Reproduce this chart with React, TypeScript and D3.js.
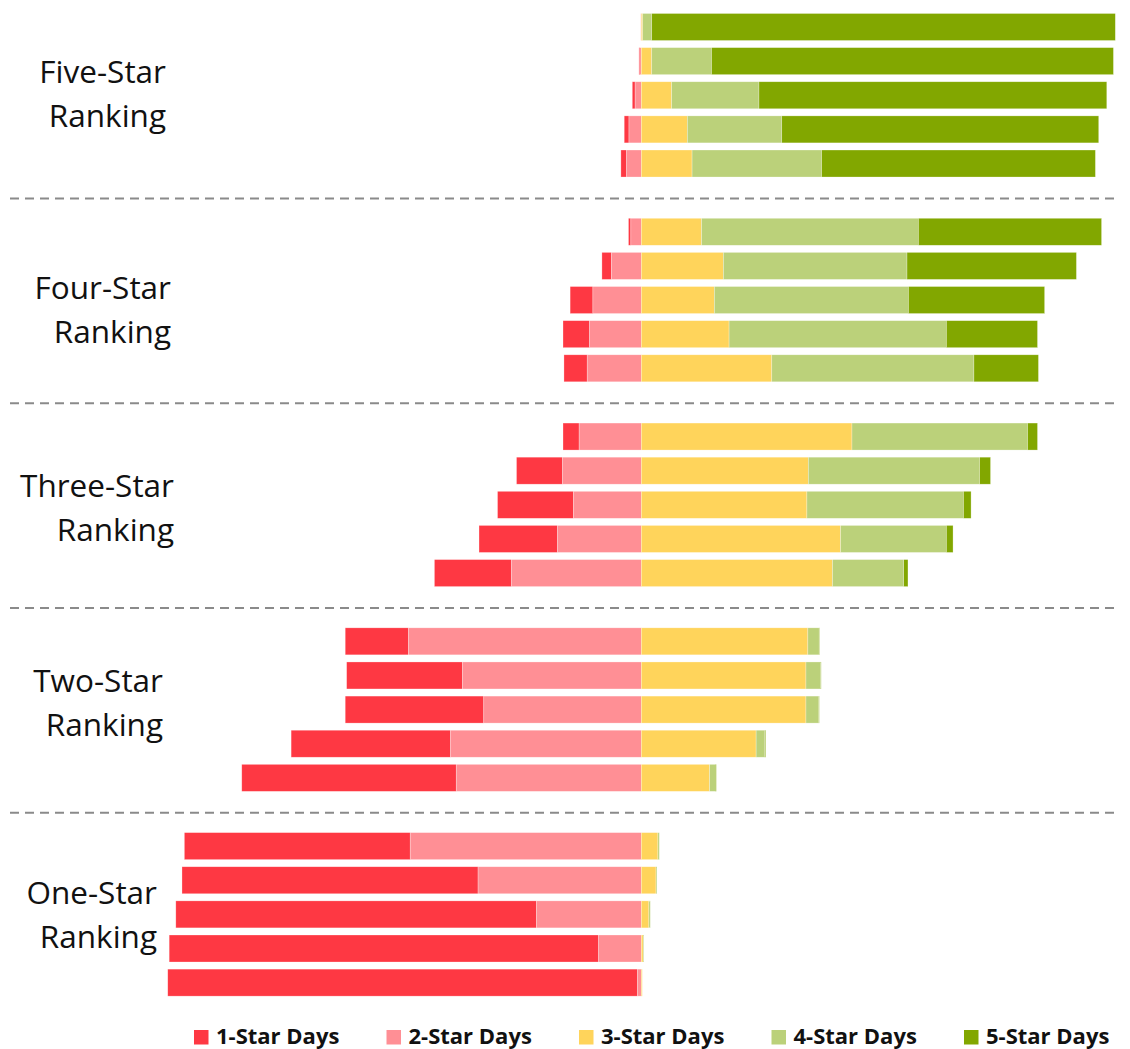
import React from "react";
import * as d3 from "d3";

// Group labels (top to bottom)
const groupLabels = [
  ["Five-Star", "Ranking"],
  ["Four-Star", "Ranking"],
  ["Three-Star", "Ranking"],
  ["Two-Star", "Ranking"],
  ["One-Star", "Ranking"],
];

const seriesNames = ["1-Star Days", "2-Star Days", "3-Star Days", "4-Star Days", "5-Star Days"];
const seriesColors = ["#FE3843", "#FF8F95", "#FFD45B", "#BBD17A", "#82A700"];

// Share of days (%) per bar, 25 bars top to bottom (5 per ranking group)
const oneStar = [
  0, 0.2, 0.6, 1.0, 1.2,
  0.5, 2.0, 4.8, 5.6, 4.9,
  3.4, 9.7, 16.0, 16.5, 16.2,
  13.3, 24.4, 29.2, 33.6, 45.2,
  47.6, 62.4, 76.0, 90.5, 99.0,
];
const twoStar = [
  0.1, 0.3, 1.3, 2.6, 3.1,
  2.2, 6.3, 10.2, 10.9, 11.4,
  13.1, 16.6, 14.3, 17.7, 27.4,
  49.1, 37.7, 33.2, 40.2, 39.0,
  48.7, 34.4, 22.1, 9.0, 0.8,
];
const threeStar = [
  0.3, 2.2, 6.4, 9.7, 10.7,
  12.7, 17.3, 15.4, 18.5, 27.5,
  44.4, 35.2, 34.9, 42.0, 40.3,
  35.1, 34.7, 34.7, 24.2, 14.4,
  3.5, 3.1, 1.6, 0.4, 0.2,
];
const fourStar = [
  1.9, 12.6, 18.4, 19.9, 27.3,
  45.7, 38.7, 40.9, 45.8, 42.6,
  37.0, 36.1, 33.0, 22.3, 15.0,
  2.4, 3.1, 2.7, 1.8, 1.2,
  0.3, 0.2, 0.3, 0.15, 0,
];
const fiveStar = [
  97.7, 84.7, 73.3, 66.8, 57.7,
  38.6, 35.7, 28.7, 19.2, 13.6,
  2.1, 2.3, 1.6, 1.4, 0.9,
  0.1, 0.1, 0.1, 0.2, 0.2,
  0, 0, 0, 0, 0,
];

const W = 1130;
const H = 1049;
const BARS_PER_GROUP = 5;
const SLOTS_PER_GROUP = 6;
const labelRight = [166, 171, 174, 163, 157];
const labelBaseline = [83, 299, 497, 692, 904];
const LINE_GAP = 44;

export default function App() {
  const nGroups = groupLabels.length;
  const nSlots = nGroups * SLOTS_PER_GROUP;
  const step = 34.13;
  const y = d3
    .scaleBand<number>()
    .domain(d3.range(nSlots))
    .range([9.93, 9.93 + nSlots * step])
    .paddingInner(0.209)
    .paddingOuter(0.1045);
  const x = d3.scaleLinear().domain([-100, 100]).range([641.3 - 474.5, 641.3 + 474.5]);

  const rows = oneStar.map((_, i) => {
    const g = Math.floor(i / BARS_PER_GROUP);
    const slot = g * SLOTS_PER_GROUP + (i % BARS_PER_GROUP);
    const v = [oneStar[i], twoStar[i], threeStar[i], fourStar[i], fiveStar[i]];
    const segs = [
      [-(v[0] + v[1]), -v[1]],
      [-v[1], 0],
      [0, v[2]],
      [v[2], v[2] + v[3]],
      [v[2] + v[3], v[2] + v[3] + v[4]],
    ];
    return { slot, segs };
  });

  const dividers = d3.range(1, nGroups).map((g) => {
    const last = y(g * SLOTS_PER_GROUP - 2)! + y.bandwidth();
    const next = y(g * SLOTS_PER_GROUP)!;
    return (last + next) / 2 + 0.8;
  });

  const legendX = d3.scaleLinear().domain([0, 4]).range([194, 964]);

  return (
    <svg
      width={W}
      height={H}
      style={{ position: "absolute", left: 0, top: 0, background: "#fff" }}
      fontFamily="'Open Sans', 'Noto Sans', sans-serif"
    >
      {dividers.map((dy, i) => (
        <line
          key={"d" + i}
          x1={10}
          x2={1120}
          y1={dy}
          y2={dy}
          stroke="#8a8a8a"
          strokeWidth={2}
          strokeDasharray="9,6"
        />
      ))}
      {rows.map((r, i) => (
        <g key={"r" + i}>
          {r.segs.map((s, k) =>
            s[1] - s[0] > 0 ? (
              <rect
                key={k}
                x={x(s[0])}
                y={y(r.slot)}
                width={x(s[1]) - x(s[0])}
                height={y.bandwidth()}
                fill={seriesColors[k]}
                stroke="#ffffff"
                strokeOpacity={0.45}
                strokeWidth={0.6}
              />
            ) : null
          )}
        </g>
      ))}
      {groupLabels.map((lines, g) => (
        <text key={"l" + g} textAnchor="end" fontSize={31.5} fill="#111">
          {lines.map((t, j) => (
            <tspan key={j} x={labelRight[g]} y={labelBaseline[g] + j * LINE_GAP}>
              {t}
            </tspan>
          ))}
        </text>
      ))}
      {seriesNames.map((name, i) => (
        <g key={"lg" + i} transform={`translate(${legendX(i)},0)`}>
          <rect x={0} y={1030} width={14.5} height={14.5} fill={seriesColors[i]} />
          <text x={22} y={1043.5} fontSize={22} fontWeight={700} fill="#111">
            {name}
          </text>
        </g>
      ))}
    </svg>
  );
}
